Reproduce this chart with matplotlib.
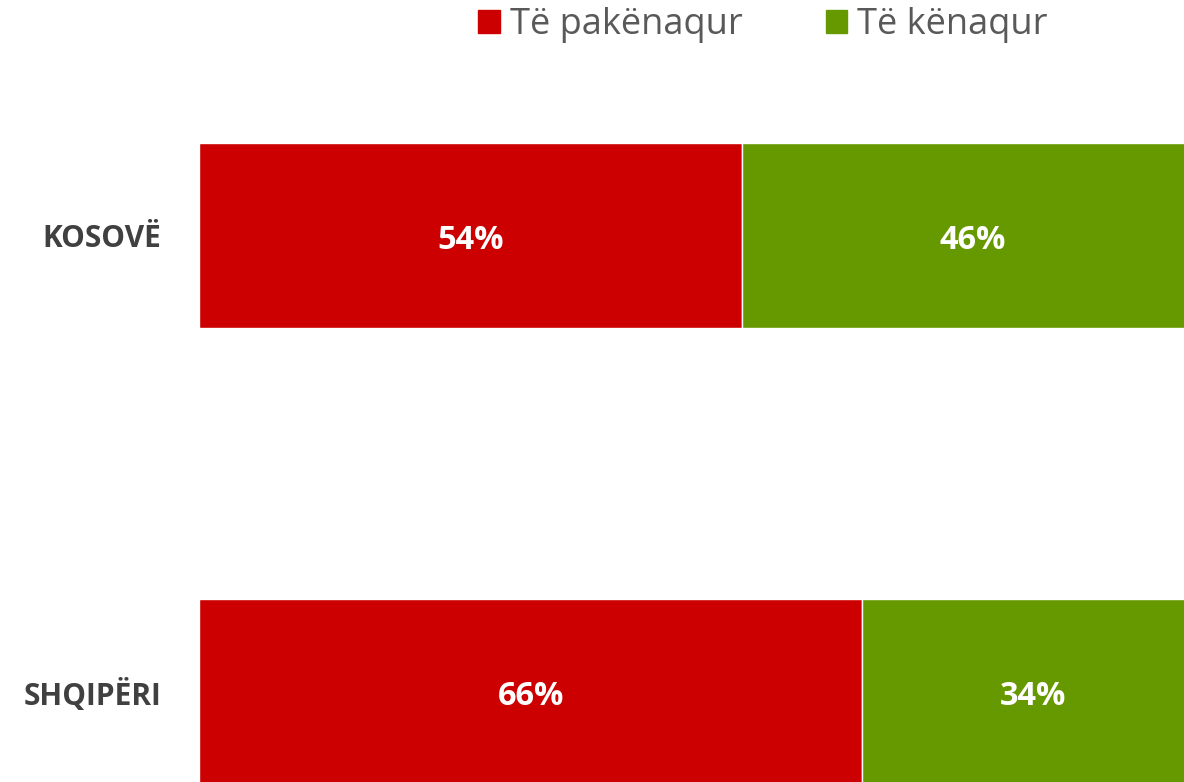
import matplotlib
matplotlib.use("Agg")
import matplotlib.pyplot as plt
from matplotlib.patches import Patch

categories = ["KOSOVË", "SHQIPËRI"]
series_names = ["Të pakënaqur", "Të kënaqur"]
dissatisfied = [54, 66]
satisfied = [46, 34]
colors = ["#CC0000", "#669900"]

plt.rcParams['font.family'] = ['Open Sans', 'DejaVu Sans']

fig = plt.figure(figsize=(11.84, 7.82), dpi=100)
ax = fig.add_axes([199/1184, 0, 985/1184, 1])

ypos = list(range(len(categories)))
h = 185/456
b1 = ax.barh(ypos, dissatisfied, height=h, color=colors[0], edgecolor="white", linewidth=1)
b2 = ax.barh(ypos, satisfied, left=dissatisfied, height=h, color=colors[1], edgecolor="white", linewidth=1)

for vals, lefts in [(dissatisfied, [0]*len(dissatisfied)), (satisfied, dissatisfied)]:
    for y, v, l in zip(ypos, vals, lefts):
        ax.text(l + v/2, y + 0.012, f"{v}%", ha="center", va="center", color="white",
                fontsize=23.5, fontweight="bold")

ax.set_xlim(0, 98.0)
ax.set_ylim((782-235.5)/456, -235.5/456)
ax.set_yticks(ypos)
ax.set_yticklabels(categories, fontsize=21.5, fontweight="bold", color="#404040")
ax.tick_params(axis="y", length=0, pad=27)
ax.set_xticks([])
for s in ax.spines.values():
    s.set_visible(False)

handles = [Patch(color=c) for c in colors]
fig.legend(handles, series_names, loc="upper left", bbox_to_anchor=(478/1184, 1 - 7/782),
           ncol=2, frameon=False, fontsize=26, labelcolor="#595959", borderpad=0,
           borderaxespad=0,
           handlelength=0.6, handleheight=0.6, handletextpad=0.28, columnspacing=2.3)

fig.savefig("out.png", dpi=100)
